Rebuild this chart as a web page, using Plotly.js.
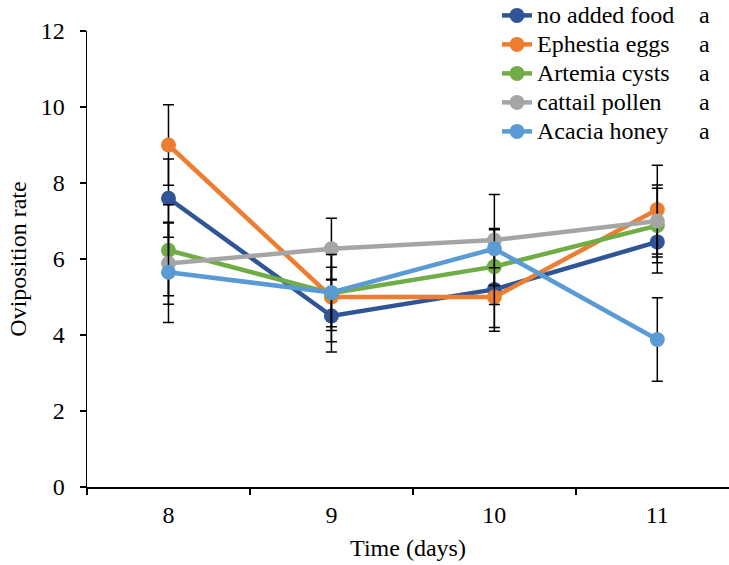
<!DOCTYPE html>
<html>
<head>
<meta charset="utf-8">
<script src="https://cdn.plot.ly/plotly-3.0.1.min.js"></script>
<style>html,body{margin:0;padding:0;background:#fff;}#chart{width:729px;height:565px;}</style>
</head>
<body>
<div id="chart"></div>
<script>
const days = ['8', '9', '10', '11'];
const seriesNames = ['no added food', 'Ephestia eggs', 'Artemia cysts', 'cattail pollen', 'Acacia honey'];
const noFood = [7.6, 4.5, 5.2, 6.45];
const noFoodErr = [1.03, 0.95, 1.1, 0.82];
const ephestia = [9.0, 5.0, 5.0, 7.3];
const ephestiaErr = [1.06, 0.78, 0.8, 1.17];
const artemia = [6.23, 5.1, 5.8, 6.88];
const artemiaErr = [1.2, 1.28, 1.0, 0.98];
const cattail = [5.88, 6.27, 6.5, 7.0];
const cattailErr = [1.07, 0.8, 1.2, 0.95];
const acacia = [5.65, 5.12, 6.27, 3.88];
const acaciaErr = [1.32, 1.0, 0.5, 1.1];
const letters = ['a', 'a', 'a', 'a', 'a'];
const colors = ['#2F5597', '#ED7D31', '#70AD47', '#A5A5A5', '#5B9BD5'];

const values = [noFood, ephestia, artemia, cattail, acacia];
const errs = [noFoodErr, ephestiaErr, artemiaErr, cattailErr, acaciaErr];
const fontFam = 'Liberation Serif, Times New Roman, serif';
const fs = 24;

const traces = values.map((v, i) => ({
  type: 'scatter',
  mode: 'lines+markers',
  x: days,
  y: v,
  name: '<span style="font-size:' + fs + 'px">' + seriesNames[i] + '</span>',
  line: {color: colors[i], width: 4.5},
  marker: {color: colors[i], size: 15},
  error_y: {type: 'data', array: errs[i], visible: true, color: '#000', thickness: 1.5, width: 5.5},
  hoverinfo: 'skip'
}));

const annotations = letters.map((t, i) => ({
  xref: 'paper', yref: 'paper',
  x: (704 - 87) / 642, y: (487 - (15.5 + i * 28.8)) / 456,
  xanchor: 'center', yanchor: 'middle',
  text: t, showarrow: false,
  font: {family: fontFam, size: fs, color: '#000'}
}));

const layout = {
  width: 729, height: 565,
  margin: {l: 87, r: 0, t: 31, b: 78, autoexpand: false},
  paper_bgcolor: '#fff', plot_bgcolor: '#fff',
  font: {family: fontFam, size: fs, color: '#000'},
  showlegend: true,
  legend: {
    x: (497 - 87) / 642, y: 1.077, xanchor: 'left', yanchor: 'top',
    bgcolor: 'rgba(0,0,0,0)', font: {family: fontFam, size: 20, color: '#000'},
    tracegroupgap: 0
  },
  xaxis: {
    type: 'category',
    range: [-0.5, 3.44],
    tickson: 'boundaries',
    ticks: 'outside', ticklen: 6, tickwidth: 1.5, tickcolor: '#000',
    ticklabelstandoff: 6,
    showline: true, linecolor: '#000', linewidth: 1.5,
    showgrid: false, zeroline: false,
    tickfont: {family: fontFam, size: fs, color: '#000'},
    title: {text: 'Time (days)', font: {family: fontFam, size: fs, color: '#000'}, standoff: 12}
  },
  yaxis: {
    range: [0, 12], dtick: 2,
    ticks: 'outside', ticklen: 6, tickwidth: 1.5, tickcolor: '#000',
    ticklabelstandoff: 10,
    showline: true, linecolor: '#000', linewidth: 1.5,
    showgrid: false, zeroline: false,
    tickfont: {family: fontFam, size: fs, color: '#000'},
    title: {text: 'Oviposition rate', font: {family: fontFam, size: fs, color: '#000'}, standoff: 7}
  },
  annotations: annotations
};

Plotly.newPlot('chart', traces, layout, {displayModeBar: false, staticPlot: true});
</script>
</body>
</html>
